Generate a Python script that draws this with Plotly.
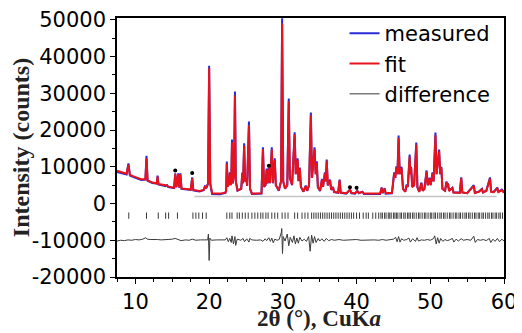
import plotly.graph_objects as go

# ---- measured / fit pattern (2theta in degrees, counts) ----
theta_a = [7.5, 8.2, 8.8, 9.05, 9.25, 10.0, 10.8, 11.35, 11.5, 11.65, 12.3, 12.9, 13.0, 13.12, 14.1, 14.3, 14.45,
           15.25, 15.4, 15.55, 15.8, 15.95, 16.1, 16.25, 17.5, 17.7, 17.85, 18.7, 19.25, 19.45, 19.6, 19.85, 20.0,
           20.15, 20.4]
fit_a = [8900, 8500, 8100, 10600, 7800, 7200, 6600, 6600, 12300, 6300, 5700, 5500, 7300, 5300, 4800, 4900, 4600,
         4300, 8000, 4500, 8000, 4400, 7900, 4100, 3800, 6900, 3700, 3400, 3700, 4700, 4200, 5500, 36800,
         5500, 2800]
meas_a = [8600, 8200, 7900, 10900, 7600, 7000, 6400, 6500, 13000, 6200, 5600, 5400, 7600, 5200, 4700, 5000, 4500,
          4200, 8200, 4400, 8200, 4300, 8200, 4000, 3700, 7100, 3600, 3300, 3600, 4900, 4100, 5400, 37500,
          5400, 2600]

theta_b = [21.5, 22.2, 22.3, 22.4, 22.52, 22.7, 22.8, 22.92, 23.0, 23.1, 23.2, 23.38, 23.5, 23.62, 23.85, 24.35,
           24.5, 24.6, 24.75, 24.88, 25.05, 25.15, 25.4, 25.55, 25.8, 27.1, 27.3, 27.45, 27.65, 27.8, 27.92, 28.1,
           28.25, 28.5, 28.65, 28.9, 29.05, 29.45, 29.75, 29.9, 30.05, 30.3, 30.6, 30.8, 30.95, 31.25, 31.6, 31.75,
           32.0, 32.12, 32.3, 32.45, 32.8]
fit_b = [2700, 3000, 3400, 10900, 4600, 5600, 8200, 5000, 5800, 16600, 5500, 8000, 29400, 6000, 3600, 4000,
         8100, 5500, 15800, 6000, 6800, 4800, 21300, 4000, 2700, 2800, 14800, 4600, 5000, 9200, 5500, 9500,
         5600, 14700, 5600, 11800, 5000, 3600, 6000, 49000, 6000, 4100, 5000, 27800, 7000, 5100, 18800, 8000,
         11900, 6200, 9500, 4600, 3300]
meas_b = [2500, 2900, 3400, 11400, 4600, 5600, 8500, 5000, 5800, 17400, 5500, 8000, 30500, 6000, 3500, 4000,
          8400, 5500, 16400, 6000, 7000, 4800, 22300, 4000, 2600, 2700, 15300, 4500, 5000, 9500, 5500, 9800,
          5500, 15300, 5500, 12300, 5000, 3500, 6000, 50400, 6000, 4000, 5000, 28600, 7000, 5000, 19400, 8000,
          12300, 6100, 9800, 4500, 3200]

theta_c = [33.1, 33.3, 33.55, 33.8, 33.95, 34.3, 34.45, 34.6, 34.75, 35.05, 35.3, 35.45, 35.7, 35.82, 35.95, 36.1,
           36.4, 36.55, 36.8, 36.95, 37.5, 37.7, 37.85, 38.6, 39.1, 39.3, 39.8, 40.1, 40.3, 40.8, 41.0, 43.2, 43.4,
           43.55, 43.8, 43.95, 44.8]
fit_c = [4700, 3500, 5000, 24000, 7000, 14700, 8000, 11000, 4500, 3500, 6500, 4500, 8200, 6000, 11600, 5000,
         6300, 3800, 4400, 3200, 3000, 6300, 3000, 2800, 3700, 2900, 2800, 3400, 2900, 3100, 2700, 2700, 4200,
         2900, 4000, 2800, 2900]
meas_c = [4900, 3400, 5000, 24800, 7000, 15300, 8000, 11500, 4400, 3400, 6700, 4500, 8500, 6000, 12000, 4900,
          6500, 3700, 4500, 3100, 2900, 6500, 2900, 2700, 3800, 2800, 2700, 3500, 2800, 3200, 2600, 2600, 4400,
          2800, 4200, 2700, 2800]

theta_d = [45.1, 45.25, 45.4, 45.55, 45.7, 45.85, 46.1, 46.3, 46.6, 46.8, 46.95, 47.2, 47.3, 47.4, 47.55, 47.8,
           48.1, 48.25, 48.5, 48.8, 48.95, 49.2, 49.5, 49.65, 49.9, 50.05, 50.3, 50.45, 50.7, 50.85, 51.2, 51.35,
           51.5, 51.65, 52.0, 52.2, 52.3, 52.4, 52.55, 53.0, 53.15, 54.0, 54.2, 54.35, 55.0, 55.9, 56.05, 56.6,
           57.0, 57.15, 57.6, 58.1, 58.25, 58.6, 59.1, 59.25, 59.7, 60.0]
fit_d = [8200, 7000, 9800, 8000, 17800, 8000, 9600, 4000, 3200, 5000, 4500, 12800, 8000, 9700, 4500, 4900,
         16000, 4500, 3200, 5500, 3500, 3900, 8700, 5000, 6800, 5000, 8200, 6000, 18600, 8000, 14200, 8000,
         9700, 4000, 3400, 5800, 4500, 5400, 3400, 4200, 3000, 2900, 6900, 3000, 2800, 4800, 2900, 3200,
         3900, 3000, 3400, 6800, 3200, 3100, 4100, 3100, 3600, 2900]
meas_d = [8500, 7000, 10100, 8000, 18500, 8000, 10000, 4000, 3200, 5200, 4500, 13300, 8000, 10000, 4500, 5000,
          16600, 4500, 3200, 5700, 3500, 4000, 9000, 5000, 7000, 5000, 8500, 6000, 19300, 8000, 14700, 8000,
          10000, 4000, 3500, 6000, 4500, 5500, 3500, 4300, 3000, 3000, 7100, 3000, 2800, 5000, 2900, 3300,
          4000, 3000, 3500, 7100, 3300, 3200, 4300, 3200, 3800, 3000]

# ---- difference curve (offset by -10000 in the original plot) ----
diff_theta = [7.5, 8.0, 8.5, 9.0, 9.5, 10.0, 10.5, 11.0, 11.4, 11.6, 12.0, 12.5, 13.0, 13.5, 14.0, 14.5, 15.0,
              15.4, 15.8, 16.2, 16.8, 17.3, 17.7, 18.2, 18.8, 19.3, 19.8, 19.9, 20.0, 20.1, 20.3, 21.0, 21.6,
              22.2, 22.4, 22.6, 22.8, 23.0, 23.1, 23.3, 23.5, 23.6, 23.8, 24.3, 24.6, 24.8, 25.1, 25.4, 25.5,
              25.8, 26.4, 27.0, 27.3, 27.6, 27.8, 28.1, 28.3, 28.5, 28.7, 28.9, 29.2, 29.5, 29.8, 29.85, 29.95,
              30.05, 30.3, 30.6, 30.8, 31.0, 31.3, 31.5, 31.7, 31.9, 32.1, 32.3, 32.6, 32.9, 33.2, 33.5, 33.7,
              33.9, 34.1, 34.3, 34.5, 34.8, 35.0, 35.3, 35.6, 35.9, 36.2, 36.6, 37.0, 37.6, 38.2, 38.8, 39.4,
              40.0, 40.6, 41.2, 41.8, 42.4, 43.0, 43.5, 44.0, 44.5, 45.0, 45.3, 45.5, 45.7, 45.9, 46.1, 46.4,
              46.8, 47.1, 47.3, 47.6, 48.0, 48.2, 48.4, 48.8, 49.2, 49.6, 50.0, 50.4, 50.6, 50.8, 51.0, 51.2,
              51.4, 51.7, 52.0, 52.3, 52.6, 53.0, 53.2, 53.5, 53.8, 54.2, 54.5, 55.0, 55.5, 55.9, 56.1, 56.4,
              56.8, 57.2, 57.6, 58.0, 58.2, 58.5, 58.8, 59.1, 59.4, 59.7, 60.0]
diff_counts = [-10200, -10000, -10100, -9900, -10000, -9800, -9900, -9700, -9300, -9700, -9800, -9700, -9800,
               -9900, -9800, -9900, -9700, -9500, -9900, -10100, -9900, -10000, -9700, -10000, -9900, -10000,
               -9900, -8300, -15500, -9400, -10000, -9900, -10000, -9900, -9300, -10400, -9500, -10600, -8800,
               -11000, -9000, -11400, -9700, -10000, -9500, -10400, -9600, -10500, -9500, -9900, -10000, -9900,
               -10300, -9600, -10100, -9300, -10300, -9400, -10700, -9700, -10000, -9800, -7800, -6800, -13600,
               -9000, -10200, -8300, -11500, -9200, -10600, -8800, -11000, -9400, -10800, -9200, -10200, -9700,
               -10300, -9000, -13000, -8600, -10800, -9000, -10600, -9500, -10200, -9600, -10300, -9500, -10100,
               -9800, -10000, -9800, -10000, -9900, -10000, -9800, -10000, -9900, -10000, -9900, -10000, -9800,
               -10000, -9900, -9700, -9200, -10400, -9000, -10500, -9600, -10000, -9800, -9400, -10500, -9600,
               -10300, -9300, -10200, -9900, -10000, -9800, -10000, -9600, -8800, -11000, -9300, -10800, -9500,
               -10300, -9800, -10100, -9900, -9500, -10500, -9700, -10200, -9600, -10000, -9800, -10000, -8900,
               -10600, -9800, -10000, -9800, -10100, -9500, -10600, -9700, -10300, -9500, -10400, -9700, -10200]

# ---- Bragg reflection positions ----
bragg_theta = [9.1, 11.5, 13.1, 14.1, 14.5, 15.7, 17.8, 18.2, 18.6, 19.1, 19.6,
               22.4, 22.8, 23.1, 23.8, 24.1, 24.5, 24.9, 25.3, 25.8, 26.2, 26.6, 27.0, 27.3, 27.7, 28.0, 28.5,
               28.9, 29.3, 29.9, 30.3, 30.7, 31.6, 32.0, 32.6, 33.0, 33.4, 33.9,
               34.2, 34.5, 34.8, 35.1, 35.4, 35.7, 36.0, 36.3, 36.6, 36.9, 37.2, 37.5, 37.8, 38.1, 38.4, 38.7,
               39.0, 39.3, 39.6, 40.0, 40.4, 40.9, 41.3, 41.6, 42.2, 42.6, 43.0,
               43.3, 43.5, 43.8, 44.0, 44.3, 44.5, 44.7, 45.0, 45.2, 45.4, 45.6, 45.9, 46.1, 46.4, 46.6, 46.9,
               47.1, 47.3, 47.6, 47.8, 48.1, 48.4, 48.6, 48.9, 49.2, 49.4, 49.7, 50.0, 50.2, 50.5, 50.7, 51.0,
               51.3, 51.5, 51.8, 52.0, 52.3, 52.6, 52.8, 53.1, 53.4, 53.6, 53.9, 54.1, 54.4, 54.7, 54.9, 55.2,
               55.4, 55.7, 56.0, 56.2, 56.5, 56.7, 57.0, 57.2, 57.5, 57.8, 58.0, 58.3, 58.5, 58.8, 59.0, 59.3,
               59.5, 59.8]
bragg_level = -3300

# ---- impurity markers and background ----
imp_theta = [15.4, 17.7, 28.1, 39.1, 40.0]
imp_counts = [9000, 8300, 10300, 4400, 4300]
bkg_theta = [18.0, 59.0]
bkg_counts = [1900, 1900]

# ---- ticks / titles ----
x_tick_vals = [10, 20, 30, 40, 50, 60]
y_tick_vals = [-20000, -10000, 0, 10000, 20000, 30000, 40000, 50000]
y_tick_labels = ["-20000", "-10000", "0", "10000", "20000", "30000", "40000", "50000"]
x_title = "<b>2θ (°), CuK<i>a</i></b>"
y_title = "<b>Intensity (counts)</b>"

two_theta = theta_a + theta_b + theta_c + theta_d
y_fit = fit_a + fit_b + fit_c + fit_d
y_meas = meas_a + meas_b + meas_c + meas_d

fig = go.Figure()
fig.add_trace(go.Scatter(x=bkg_theta, y=bkg_counts, mode="lines", showlegend=False,
                         line=dict(color="#c4c4c4", width=1.5), hoverinfo="skip"))
fig.add_trace(go.Scatter(x=bragg_theta, y=[bragg_level] * len(bragg_theta), mode="markers", showlegend=False,
                         marker=dict(symbol="line-ns", size=4.5, line=dict(color="#3a3a3a", width=1))))
fig.add_trace(go.Scatter(x=two_theta, y=y_meas, mode="lines", name="measured",
                         line=dict(color="#2a2ad8", width=2)))
fig.add_trace(go.Scatter(x=two_theta, y=y_fit, mode="lines", name="fit",
                         line=dict(color="#e8121c", width=2)))
fig.add_trace(go.Scatter(x=diff_theta, y=diff_counts, mode="lines", name="difference",
                         line=dict(color="#3a3a3a", width=1)))
fig.add_trace(go.Scatter(x=imp_theta, y=imp_counts, mode="markers", showlegend=False,
                         marker=dict(symbol="circle", size=4, color="black")))

# the page body adds an 8px offset, so margins are shifted to keep the plot area in place
fig.update_layout(
    width=522, height=333,
    margin=dict(l=109, r=26, t=10, b=64, autoexpand=False),
    paper_bgcolor="white", plot_bgcolor="white",
    font=dict(family="DejaVu Sans", size=21, color="black"),
    legend=dict(x=0.588, y=1.019, xanchor="left", yanchor="top", bgcolor="rgba(0,0,0,0)",
                font=dict(family="DejaVu Sans", size=21, color="black"), borderwidth=0),
    xaxis=dict(range=[7.5, 60], tickvals=x_tick_vals, ticks="outside", ticklen=5, tickwidth=1.3,
               tickcolor="black", showline=True, linecolor="black", linewidth=1.5, mirror=True,
               showgrid=False, zeroline=False, automargin=False,
               minor=dict(dtick=2.5, tick0=0, ticks="outside", ticklen=3, tickwidth=1.3, tickcolor="black",
                          showgrid=False),
               tickfont=dict(family="DejaVu Sans", size=21)),
    yaxis=dict(range=[-20000, 50500], tickvals=y_tick_vals, ticktext=y_tick_labels, ticks="outside",
               ticklen=5, tickwidth=1.3, tickcolor="black", showline=True, linecolor="black", linewidth=1.5,
               mirror=True, showgrid=False, zeroline=False, automargin=False,
               minor=dict(dtick=5000, tick0=0, ticks="outside", ticklen=3, tickwidth=1.3, tickcolor="black",
                          showgrid=False),
               tickfont=dict(family="DejaVu Sans", size=21),
               title=dict(text=y_title, standoff=6,
                          font=dict(family="Liberation Serif", size=24, color="#222"))),
    annotations=[dict(text=x_title, xref="paper", yref="paper", x=0.523, y=-0.16,
                      xanchor="center", yanchor="middle", showarrow=False,
                      font=dict(family="Liberation Serif", size=23, color="#222"))],
)

fig.write_html("out.html")
